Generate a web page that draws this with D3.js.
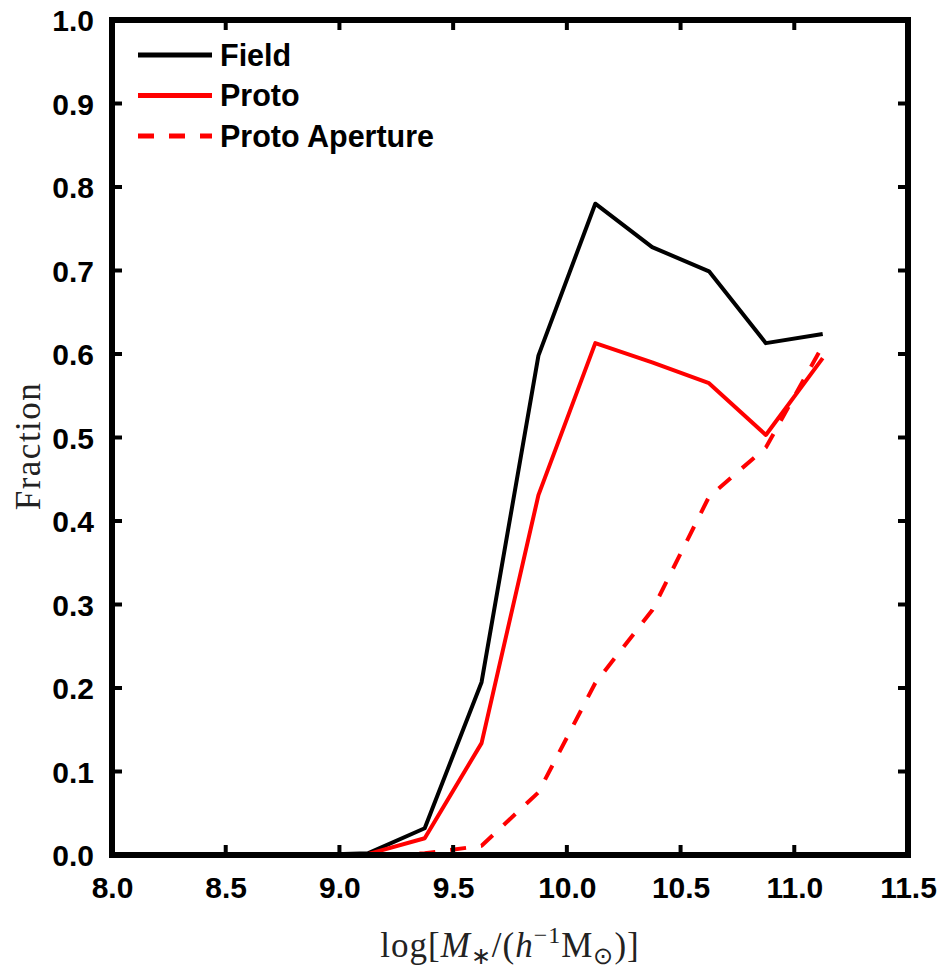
<!DOCTYPE html>
<html><head><meta charset="utf-8">
<script src="https://cdn.jsdelivr.net/npm/d3@7"></script>
<style>body{margin:0;background:#fff}</style>
</head><body>
<svg id="c" width="945" height="969"></svg>
<script>
const massBins = [8.125, 8.375, 8.625, 8.875, 9.125, 9.375, 9.625, 9.875, 10.125, 10.375, 10.625, 10.875, 11.125];
const fieldFrac = [0, 0, 0, 0, 0.002, 0.032, 0.207, 0.598, 0.780, 0.728, 0.699, 0.613, 0.624];
const protoFrac = [0, 0, 0, 0, 0.001, 0.020, 0.134, 0.431, 0.613, 0.590, 0.565, 0.503, 0.595];
const protoApFrac = [0, 0, 0, 0, 0, 0.002, 0.011, 0.075, 0.206, 0.293, 0.429, 0.488, 0.610];
const xTicks = [8.0, 8.5, 9.0, 9.5, 10.0, 10.5, 11.0, 11.5];
const yTicks = [0.0, 0.1, 0.2, 0.3, 0.4, 0.5, 0.6, 0.7, 0.8, 0.9, 1.0];
const seriesNames = ["Field", "Proto", "Proto Aperture"];

const svg = d3.select("#c");
const L = 112, R = 908, T = 20, B = 855;
const x = d3.scaleLinear().domain([8, 11.5]).range([L, R]);
const y = d3.scaleLinear().domain([0, 1]).range([B, T]);

const series = [
  {name: seriesNames[0], vals: fieldFrac, color: "#000", dash: null},
  {name: seriesNames[1], vals: protoFrac, color: "#ff0000", dash: null},
  {name: seriesNames[2], vals: protoApFrac, color: "#ff0000", dash: "16,15"}
];

const line = d3.line().x(d => x(d[0])).y(d => y(d[1]));
series.forEach(s => {
  svg.append("path")
    .datum(massBins.map((m, i) => [m, s.vals[i]]))
    .attr("d", line)
    .attr("fill", "none")
    .attr("stroke", s.color)
    .attr("stroke-width", 4)
    .attr("stroke-linejoin", "round")
    .attr("stroke-dasharray", s.dash);
});

const fontTick = "'Liberation Sans', Arial, sans-serif";
// axes (labels via d3 axis)
const ax = svg.append("g").attr("transform", `translate(0,${B})`)
  .call(d3.axisBottom(x).tickValues(xTicks).tickFormat(d3.format(".1f")).tickSize(0).tickPadding(22));
const ay = svg.append("g").attr("transform", `translate(${L},0)`)
  .call(d3.axisLeft(y).tickValues(yTicks).tickFormat(d3.format(".1f")).tickSize(0).tickPadding(18));
[ax, ay].forEach(g => {
  g.select(".domain").remove();
  g.selectAll(".tick line").remove();
  g.selectAll(".tick text").attr("font-family", fontTick).attr("font-weight", "bold")
    .attr("font-size", 30).attr("fill", "#000");
});
ax.selectAll(".tick text").attr("dy", "0.71em");
ay.selectAll(".tick text").attr("dy", "0.36em");

// frame
svg.append("rect").attr("x", L).attr("y", T).attr("width", R - L).attr("height", B - T)
  .attr("fill", "none").attr("stroke", "#000").attr("stroke-width", 6);

// inward tick marks on all four sides
const tk = svg.append("g").attr("stroke", "#000").attr("stroke-width", 4);
xTicks.forEach(v => {
  tk.append("line").attr("x1", x(v)).attr("x2", x(v)).attr("y1", B).attr("y2", B - 10);
  tk.append("line").attr("x1", x(v)).attr("x2", x(v)).attr("y1", T).attr("y2", T + 10);
});
yTicks.forEach(v => {
  tk.append("line").attr("x1", L).attr("x2", L + 10).attr("y1", y(v)).attr("y2", y(v));
  tk.append("line").attr("x1", R).attr("x2", R - 10).attr("y1", y(v)).attr("y2", y(v));
});

// legend
const leg = svg.append("g");
series.forEach((s, i) => {
  const ly = 55 + i * 40.5;
  leg.append("line").attr("x1", 138).attr("x2", 212).attr("y1", ly).attr("y2", ly)
    .attr("stroke", s.color).attr("stroke-width", 5).attr("stroke-dasharray", s.dash);
  leg.append("text").attr("x", 220).attr("y", ly).attr("dy", "0.36em")
    .attr("font-family", fontTick).attr("font-weight", "bold").attr("font-size", 30.5)
    .attr("fill", "#000").text(s.name);
});

// axis labels
const serif = "'Liberation Serif', 'Times New Roman', serif";
svg.append("text").attr("transform", "translate(40,446) rotate(-90)")
  .attr("text-anchor", "middle").attr("font-family", serif).attr("font-size", 35)
  .attr("letter-spacing", 1.5).attr("fill", "#222").text("Fraction");

const xl = svg.append("text").attr("x", 510).attr("y", 957).attr("text-anchor", "middle")
  .attr("font-family", serif).attr("font-size", 35).attr("letter-spacing", 1).attr("fill", "#222");
xl.append("tspan").text("log[");
xl.append("tspan").attr("font-style", "italic").text("M");
xl.append("tspan").attr("font-size", 24).attr("dy", 7).text("∗");
xl.append("tspan").attr("dy", -7).text("/(");
xl.append("tspan").attr("font-style", "italic").text("h");
xl.append("tspan").attr("font-size", 24).attr("dy", -14).text("−1");
xl.append("tspan").attr("dy", 14).text("M");
xl.append("tspan").attr("font-size", 24).attr("dy", 7).text("⊙");
xl.append("tspan").attr("dy", -7).text(")]");
</script>
</body></html>
